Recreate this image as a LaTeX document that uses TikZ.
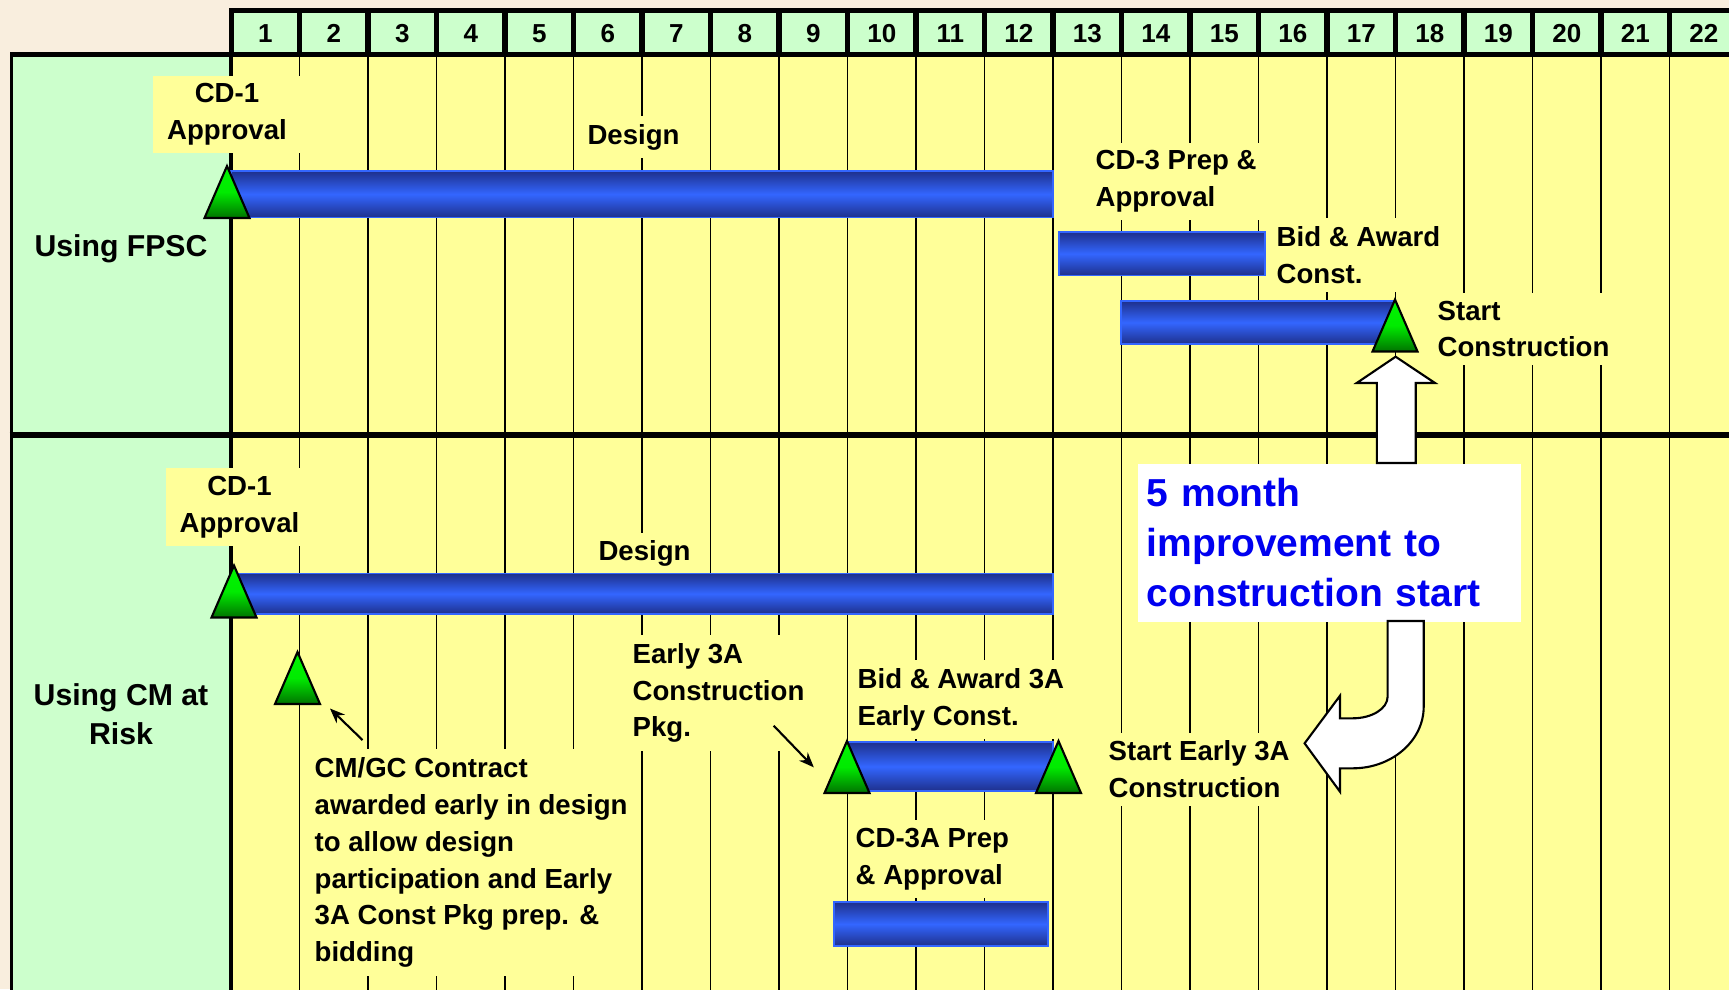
\documentclass[tikz,border=0pt]{standalone}
\usepackage{fontspec}
\setmainfont{Liberation Sans}
\usetikzlibrary{arrows.meta, positioning, calc}
\definecolor{parchment}{RGB}{249, 238, 222}
\definecolor{panelgreen}{RGB}{204, 255, 204}
\definecolor{gridyellow}{RGB}{255, 255, 153}
\definecolor{barblue}{RGB}{51, 102, 255}
\definecolor{barnavy}{RGB}{30, 48, 140}
\definecolor{msgreen}{RGB}{0, 245, 0}
\definecolor{msdark}{RGB}{0, 115, 0}
\definecolor{noteblue}{RGB}{0, 0, 240}

\tikzset{
    gridline/.style={draw=black, line width=0.4pt},
    bar/.style={draw=barblue, line width=0.45pt, top color=barnavy, bottom color=barnavy, middle color=barblue},
    milestone/.style={draw=black, line width=0.6pt, top color=msgreen, bottom color=msdark, middle color=msgreen!92!msdark},
    lbl/.style={fill=gridyellow, inner xsep=0.08cm, inner ysep=0.08cm, align=left, font=\fontsize{7.85}{10.5}\selectfont\bfseries},
    casename/.style={align=center, font=\fontsize{8.6}{11.1}\selectfont\bfseries},
    monthno/.style={font=\fontsize{7.4}{9}\selectfont\bfseries},
    note/.style={fill=white, text=noteblue, align=left, text width=3.65cm, inner xsep=0.09cm, inner ysep=0.15cm, minimum height=1.58cm, font=\fontsize{11.1}{14.2}\selectfont\bfseries},
    blockarrow/.style={draw=black, fill=white, line width=0.6pt, line join=miter},
    pointer/.style={-{Stealth[length=0.15cm, width=0.12cm]}, line width=0.6pt}
}

% milestone marker: name, x, y of base centre
\newcommand{\milestone}[3]{%
    \coordinate (#1) at (#2,#3);
    \draw[milestone] ($(#1)+(-0.225,0)$) -- ($(#1)+(0,0.52)$) -- ($(#1)+(0.225,0)$) -- cycle;
}

\begin{document}
\begin{tikzpicture}
    \useasboundingbox (0,0) rectangle (17.29,-9.89);
    \clip (0,0) rectangle (17.29,-9.89);

    % Paper background
    \fill[parchment] (0,0) rectangle (17.29,-9.89);

    % Month header
    \fill[black] (2.288,-0.083) rectangle (17.4,-0.573);
    \foreach \k in {1,...,22} {
        \fill[panelgreen] ({2.31+(\k-1)*0.685+0.029},-0.133) rectangle ({2.31+\k*0.685-0.029},-0.517);
        \node[monthno] (m\k) at ({2.31+(\k-0.5)*0.685},-0.335) {\k};
    }

    % Case panel and chart area
    \fill[black] (0.096,-0.517) rectangle (2.334,-9.95);
    \fill[panelgreen] (0.134,-0.573) rectangle (2.288,-9.95);
    \fill[gridyellow] (2.334,-0.573) rectangle (17.4,-9.95);
    \foreach \k in {1,...,21}
        \draw[gridline] ({2.31+\k*0.685},-0.573) -- ({2.31+\k*0.685},-9.95);
    \draw[line width=1.45pt] (0.096,-4.35) -- (17.4,-4.35);

    % Case names
    \node[casename] (fpsc) at (1.21,-2.485) {Using FPSC};
    \node[casename] (cmrisk) at (1.21,-7.145) {Using CM at\\Risk};

    % Labels, FPSC
    \node[lbl, align=center, inner xsep=0.14cm] (cd1a) at (2.27,-1.145) {CD-1\\Approval};
    \node[lbl] (designa) at (6.335,-1.37) {Design};
    \node[lbl, anchor=west] (cd3) at (10.87,-1.815) {CD-3 Prep \&\\Approval};
    \node[lbl, anchor=west] (bida) at (12.68,-2.55) {Bid \& Award\\Const.};
    \node[lbl, anchor=west] (starta) at (14.29,-3.29) {Start\\Construction};

    % Labels, CM at Risk
    \node[lbl, align=center, inner xsep=0.14cm] (cd1b) at (2.395,-5.07) {CD-1\\Approval};
    \node[lbl] (designb) at (6.445,-5.535) {Design};
    \node[lbl, anchor=west] (cmgc) at (3.06,-8.625) {CM/GC Contract\\awarded early in design\\to allow design\\participation and Early\\3A Const Pkg prep. \&\\bidding};
    \node[lbl, anchor=west] (early) at (6.24,-6.93) {Early 3A\\Construction\\Pkg.};
    \node[lbl, anchor=west] (bidb) at (8.49,-6.995) {Bid \& Award 3A\\Early Const.};
    \node[lbl, anchor=west] (startb) at (11.0,-7.695) {Start Early 3A\\Construction};
    \node[lbl, anchor=west] (cd3a) at (8.47,-8.59) {CD-3A Prep\\\& Approval};

    % Bars
    \draw[bar] (2.31,-1.71) rectangle (10.53,-2.175);
    \draw[bar] (10.59,-2.32) rectangle (12.65,-2.755);
    \draw[bar] (11.21,-3.01) rectangle (13.95,-3.44);
    \draw[bar] (2.31,-5.735) rectangle (10.53,-6.14);
    \draw[bar] (8.47,-7.42) rectangle (10.53,-7.91);
    \draw[bar] (8.34,-9.02) rectangle (10.48,-9.46);

    % Milestones
    \milestone{ms cd1a}{2.27}{-2.18}
    \milestone{ms start}{13.95}{-3.515}
    \milestone{ms cd1b}{2.34}{-6.175}
    \milestone{ms cmgc}{2.975}{-7.04}
    \milestone{ms early}{8.47}{-7.93}
    \milestone{ms earlyend}{10.585}{-7.93}

    % Pointers to milestones
    \coordinate (cmgc tail) at (3.625,-7.40);
    \coordinate (cmgc tip) at (3.30,-7.085);
    \draw[pointer] (cmgc tail) -- (cmgc tip);
    \coordinate (early tail) at (7.737,-7.257);
    \coordinate (early tip) at (8.138,-7.673);
    \draw[pointer] (early tail) -- (early tip);

    % Improvement note with block arrows
    \node[note, anchor=north west] (gain) at (11.37,-4.63) {5 month\\improvement to\\construction start};
    \draw[blockarrow] (13.768,-4.63) -- (13.768,-3.83) -- (13.567,-3.83) -- (13.956,-3.567) -- (14.35,-3.83) -- (14.157,-3.83) -- (14.157,-4.63) -- cycle;
    \draw[blockarrow] (13.876,-6.21) -- (13.876,-6.967) arc[start angle=0, end angle=-90, x radius=0.35, y radius=0.216] -- (13.40,-7.183) -- (13.40,-6.957) -- (13.046,-7.433) -- (13.40,-7.917) -- (13.40,-7.683) -- (13.527,-7.683) arc[start angle=-90, end angle=0, x radius=0.71, y radius=0.616] -- (14.237,-6.21) -- cycle;
\end{tikzpicture}
\end{document}
